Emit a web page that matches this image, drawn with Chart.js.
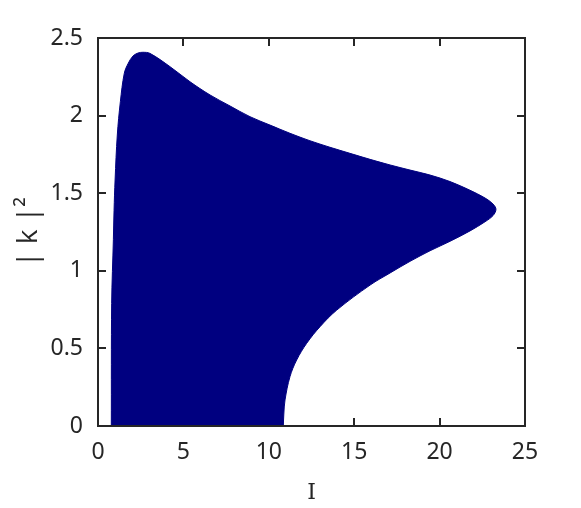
<!DOCTYPE html>
<html>
<head>
<meta charset="utf-8">
<script src="https://cdn.jsdelivr.net/npm/chart.js@4.4.1/dist/chart.umd.min.js"></script>
<style>
  body { margin: 0; background: #fff; }
</style>
</head>
<body>
<canvas id="regionChart" width="581" height="508"></canvas>
<script>
// outline of the region, from the bottom-left corner round to (10.85, 0);
// the fill closes it back along |k|^2 = 0
const boundaryI = [
  0.78, 0.80, 0.90, 0.94, 1.00, 1.13, 1.31, 1.54, 1.77, 2.05, 2.34, 2.63, 3.04,
  4.22, 5.39, 6.56, 7.73, 8.90, 10.07, 11.24, 12.41, 13.58, 14.75, 15.93, 17.10,
  18.27, 19.44, 20.61, 21.78, 22.66, 23.13, 23.30,
  23.13, 22.66, 21.78, 20.61, 19.44, 18.27, 17.10, 15.93,
  13.98, 13.00, 12.22, 11.63, 11.24, 10.95, 10.88, 10.85
];
const boundaryK2 = [
  0.00, 0.79, 1.20, 1.39, 1.585, 1.875, 2.09, 2.273, 2.337, 2.384, 2.403, 2.408, 2.401,
  2.315, 2.218, 2.133, 2.062, 1.993, 1.939, 1.886, 1.838, 1.796, 1.757, 1.718, 1.682,
  1.649, 1.617, 1.575, 1.519, 1.469, 1.430, 1.396,
  1.356, 1.316, 1.257, 1.190, 1.129, 1.061, 0.986, 0.908,
  0.747, 0.640, 0.533, 0.425, 0.318, 0.168, 0.077, 0.00
];

const xTicks = [0, 5, 10, 15, 20, 25];
const yTicks = [0, 0.5, 1, 1.5, 2, 2.5];

const axisColor = '#262626';
const fillColor = '#000080';

// matlab style box, ticks pointing inwards on all four sides
const boxAxes = {
  id: 'boxAxes',
  beforeDatasetsDraw(chart) {
    const { ctx, chartArea: a, scales: { x, y } } = chart;
    const len = 8;
    ctx.save();
    ctx.strokeStyle = axisColor;
    ctx.lineWidth = 2;
    ctx.beginPath();
    xTicks.forEach(v => {
      const px = Math.round(x.getPixelForValue(v));
      ctx.moveTo(px, a.bottom); ctx.lineTo(px, a.bottom - len);
      ctx.moveTo(px, a.top); ctx.lineTo(px, a.top + len);
    });
    yTicks.forEach(v => {
      const py = Math.round(y.getPixelForValue(v));
      ctx.moveTo(a.left, py); ctx.lineTo(a.left + len, py);
      ctx.moveTo(a.right, py); ctx.lineTo(a.right - len, py);
    });
    ctx.stroke();
    ctx.restore();
  },
  afterDatasetsDraw(chart) {
    const { ctx, chartArea: a } = chart;
    ctx.save();
    ctx.strokeStyle = axisColor;
    ctx.lineWidth = 2;
    ctx.strokeRect(a.left, a.top, a.right - a.left, a.bottom - a.top);
    ctx.restore();
  }
};

const tickFont = { family: 'Noto Sans', size: 23 };

new Chart(document.getElementById('regionChart'), {
  type: 'line',
  data: {
    datasets: [{
      data: boundaryI.map((v, i) => ({ x: v, y: boundaryK2[i] })),
      backgroundColor: fillColor,
      borderColor: fillColor,
      borderWidth: 1,
      pointRadius: 0,
      tension: 0.35,
      fill: 'shape'
    }]
  },
  options: {
    responsive: false,
    animation: false,
    layout: { padding: { top: 38, right: 56, left: 0, bottom: 0 } },
    plugins: { legend: { display: false }, tooltip: { enabled: false } },
    scales: {
      x: {
        type: 'linear',
        min: 0,
        max: 25,
        afterFit: s => { s.height = 82; },
        afterBuildTicks: s => { s.ticks = xTicks.map(v => ({ value: v })); },
        grid: { display: false, drawTicks: false },
        border: { display: false },
        ticks: { font: tickFont, color: axisColor, padding: 13, maxRotation: 0 },
        title: {
          display: true,
          text: 'I',
          color: axisColor,
          font: { family: 'DejaVu Serif', size: 22 },
          padding: { top: 0, bottom: 2 }
        }
      },
      y: {
        min: 0,
        max: 2.5,
        afterFit: s => { s.width = 98; },
        afterBuildTicks: s => { s.ticks = yTicks.map(v => ({ value: v })); },
        grid: { display: false, drawTicks: false },
        border: { display: false },
        ticks: { font: tickFont, color: axisColor, padding: 15, callback: v => String(v) },
        title: {
          display: true,
          text: '| k |²',
          color: axisColor,
          font: { family: 'Open Sans', size: 28 },
          padding: { top: 12, bottom: 0 }
        }
      }
    }
  },
  plugins: [boxAxes]
});
</script>
</body>
</html>
